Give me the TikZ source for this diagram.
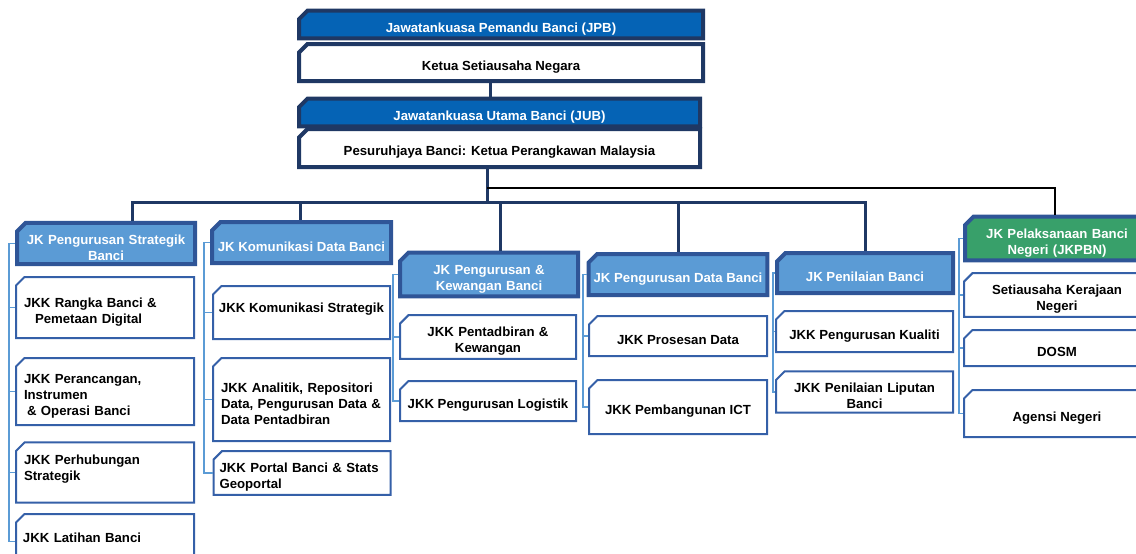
\documentclass[tikz,border=0pt]{standalone}
\usepackage{fontspec}
\setmainfont{Liberation Sans}
\usetikzlibrary{shapes.misc}
\definecolor{navy}{HTML}{1F3864}
\definecolor{hborder}{HTML}{2F5597}
\definecolor{hfill}{HTML}{5B9BD5}
\definecolor{cborder}{HTML}{3560A8}
\definecolor{brkcol}{HTML}{5B9BD5}
\definecolor{topfill}{HTML}{0563B5}
\definecolor{grn}{HTML}{38A06A}
\newcommand\lowpad[1]{\rule[-#1]{0pt}{0pt}}
\begin{document}
\begin{tikzpicture}[x=1pt,y=-1pt,
  base/.style={chamfered rectangle, chamfered rectangle corners=north west,
    chamfered rectangle xsep=5pt, inner sep=0pt, align=center,
    font=\fontsize{13.2}{16}\selectfont\bfseries,
    execute at begin node={\rule{0pt}{18pt}}},
  topbar/.style={base, draw=navy, line width=4pt, fill=topfill, text=white},
  topbox/.style={base, draw=navy, line width=4pt, fill=white, text=black},
  hdr/.style={base, draw=hborder, line width=4pt, fill=hfill, text=white},
  ghdr/.style={base, draw=hborder, line width=4pt, fill=grn, text=white},
  kid/.style={base, draw=cborder, line width=2pt, fill=white, text=black},
  lt/.style={text width=#1, align=left},
  ct/.style={text width=#1, align=center},
  conn/.style={draw=navy, line width=3pt},
  thinconn/.style={draw=black, line width=1.5pt},
  brk/.style={draw=brkcol, line width=1.5pt}]
\useasboundingbox (0,0) rectangle (1136,554);
\clip (0,0) rectangle (1136,554);

% top boxes
\node[topbar, minimum width=404, minimum height=25] (jpb) at (501,24.5) {Jawatankuasa Pemandu Banci (JPB)};
\node[topbox, minimum width=404, minimum height=37] (ksn) at (501,62.5) {Ketua Setiausaha Negara};
\node[topbar, minimum width=401, minimum height=25] (jub) at (499.5,112.5) {Jawatankuasa Utama Banci (JUB)};
\node[topbox, minimum width=401, minimum height=38] (pes) at (499.5,148) {Pesuruhjaya Banci: Ketua Perangkawan Malaysia};

% headers
\node[hdr, ct=164, minimum width=178, minimum height=41] (h1) at (106,243.5) {JK Pengurusan Strategik\\Banci};
\node[hdr, minimum width=179, minimum height=41] (h2) at (301.5,242.5) {JK Komunikasi Data Banci};
\node[hdr, ct=164, minimum width=178, minimum height=41] (h3) at (489,274.5) {JK Pengurusan \&\\Kewangan Banci};
\node[hdr, minimum width=178, minimum height=41] (h4) at (678,274.5) {JK Pengurusan Data Banci};
\node[hdr, minimum width=176, minimum height=40] (h5) at (865,273) {JK Penilaian Banci};
\node[ghdr, ct=170, minimum width=184, minimum height=43] (h6) at (1057,238.5) {JK Pelaksanaan Banci\\Negeri (JKPBN)};

% column 1
\node[kid, lt=162, minimum width=178, minimum height=61] (c11) at (105,307.5) {JKK Rangka Banci \&\\\hspace*{11pt}Pemetaan Digital};
\node[kid, lt=162, minimum width=178, minimum height=67] (c12) at (105,391.5) {JKK Perancangan,\\Instrumen\\\hspace*{3pt}\& Operasi Banci};
\node[kid, lt=162, minimum width=178, minimum height=57] (c13) at (105,472.5) {JKK Perhubungan\\Strategik\lowpad{19pt}};
\node[kid, lt=164, minimum width=178, minimum height=55] (c14) at (105,541.5) {JKK Latihan Banci\lowpad{17pt}};

% column 2
\node[kid, minimum width=177, minimum height=53] (c21) at (301.5,312.5) {JKK Komunikasi Strategik\lowpad{19pt}};
\node[kid, lt=161, minimum width=177, minimum height=83] (c22) at (301.5,399.5) {JKK Analitik, Repositori\\Data, Pengurusan Data \&\\Data Pentadbiran};
\node[kid, lt=165, minimum width=177, minimum height=40] (c23) at (302,473) {JKK Portal Banci \& Stats\\Geoportal};

% column 3
\node[kid, ct=162, minimum width=176, minimum height=40] (c31) at (488,337) {JKK Pentadbiran \&\\Kewangan};
\node[kid, minimum width=176, minimum height=40] (c32) at (488,401) {JKK Pengurusan Logistik};

% column 4
\node[kid, minimum width=178, minimum height=40] (c41) at (678,336) {JKK Prosesan Data};
\node[kid, minimum width=178, minimum height=54] (c42) at (678,407) {JKK Pembangunan ICT};

% column 5
\node[kid, minimum width=177, minimum height=41] (c51) at (864.5,331.5) {JKK Pengurusan Kualiti};
\node[kid, ct=163, minimum width=177, minimum height=40] (c52) at (864.5,392) {JKK Penilaian Liputan\\Banci};

% column 6
\node[kid, ct=172, minimum width=186, minimum height=42] (c61) at (1057,295) {Setiausaha Kerajaan\\Negeri};
\node[kid, minimum width=186, minimum height=36] (c62) at (1057,348) {DOSM};
\node[kid, minimum width=186, minimum height=47] (c63) at (1057,413.5) {Agensi Negeri};

% navy connectors
\coordinate (kx) at (490,0);
\coordinate (bus) at (487,202);
\coordinate (d1) at (132,202);
\coordinate (d2) at (300,202);
\coordinate (d3) at (500,202);
\coordinate (d4) at (678,202);
\coordinate (d5) at (865,202);
\coordinate (d6) at (1055,188);
\draw[conn] (kx |- ksn.south) -- (kx |- jub.north);
\draw[conn] (bus |- pes.south) -- (bus);
\draw[conn, line cap=rect] (d1) -- (d5);
\draw[conn] (d1) -- (d1 |- h1.north);
\draw[conn] (d2) -- (d2 |- h2.north);
\draw[conn] (d3) -- (d3 |- h3.north);
\draw[conn] (d4) -- (d4 |- h4.north);
\draw[conn] (d5) -- (d5 |- h5.north);
\draw[thinconn] (bus |- d6) -- (d6) -- (d6 |- h6.north);

% brackets
\coordinate (s1) at (9,0);
\coordinate (s2) at (204,0);
\coordinate (s3) at (393,0);
\coordinate (s4) at (583,0);
\coordinate (s5) at (773,0);
\coordinate (s6) at (959,0);
\draw[brk] (h1.west) -- (s1 |- h1.west) -- (s1 |- c14.west) -- (c14.west);
\foreach \c in {c11,c12,c13} \draw[brk] (s1 |- \c.west) -- (\c.west);
\draw[brk] (h2.west) -- (s2 |- h2.west) -- (s2 |- c23.west) -- (c23.west);
\foreach \c in {c21,c22} \draw[brk] (s2 |- \c.west) -- (\c.west);
\draw[brk] (h3.west) -- (s3 |- h3.west) -- (s3 |- c32.west) -- (c32.west);
\draw[brk] (s3 |- c31.west) -- (c31.west);
\draw[brk] (h4.west) -- (s4 |- h4.west) -- (s4 |- c42.west) -- (c42.west);
\draw[brk] (s4 |- c41.west) -- (c41.west);
\draw[brk] (h5.west) -- (s5 |- h5.west) -- (s5 |- c52.west) -- (c52.west);
\draw[brk] (s5 |- c51.west) -- (c51.west);
\draw[brk] (h6.west) -- (s6 |- h6.west) -- (s6 |- c63.west) -- (c63.west);
\foreach \c in {c61,c62} \draw[brk] (s6 |- \c.west) -- (\c.west);
\end{tikzpicture}
\end{document}
